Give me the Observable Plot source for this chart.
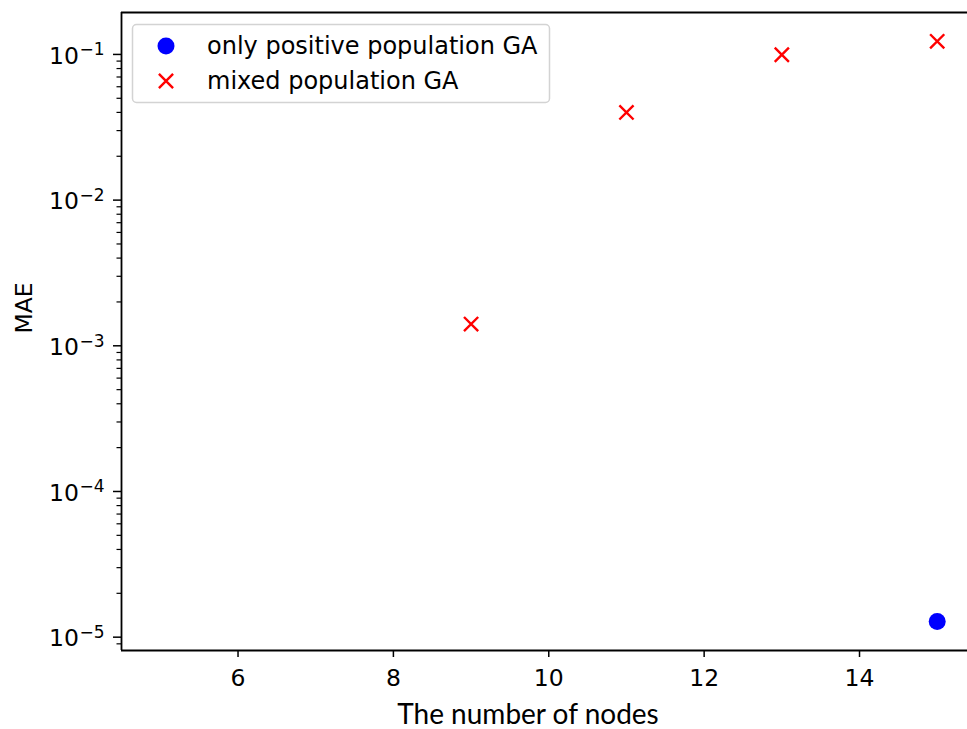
<!DOCTYPE html>
<html>
<head>
<meta charset="utf-8">
<script src="https://cdn.jsdelivr.net/npm/d3@7"></script>
<script src="https://cdn.jsdelivr.net/npm/@observablehq/plot@0.6"></script>
<style>
  html, body { margin: 0; padding: 0; background: #fff; }
  #wrap { position: relative; width: 967px; height: 729px; overflow: hidden; }
  #legend { position: absolute; left: 0; top: 0; }
</style>
</head>
<body>
<div id="wrap"></div>
<script>
// ---- data ----
const positiveNodes = [15];
const positiveMAE = [1.28e-5];
const mixedNodes = [9, 11, 13, 15];
const mixedMAE = [1.41e-3, 0.040, 0.0995, 0.123];

const xTicks = [6, 8, 10, 12, 14];
const yTicks = [1e-1, 1e-2, 1e-3, 1e-4, 1e-5];
const yTickBase = ["10", "10", "10", "10", "10"];
const yTickExp = ["\u22121", "\u22122", "\u22123", "\u22124", "\u22125"];

const seriesNames = ["only positive population GA", "mixed population GA"];
const xLabel = "The number of nodes";
const yLabel = "MAE";

const xDomain = [4.5, 15.39];
const yDomain = [8.1e-6, 0.194];

// minor log ticks
const yMinor = [];
for (let e = -6; e <= -1; e++) for (let m = 2; m <= 9; m++) {
  const v = m * Math.pow(10, e);
  if (v >= yDomain[0] && v <= yDomain[1]) yMinor.push(v);
}

const positive = positiveNodes.map((x, i) => ({x, y: positiveMAE[i]}));
const mixed = mixedNodes.map((x, i) => ({x, y: mixedMAE[i]}));
const yLabels = yTicks.map((v, i) => ({v, base: yTickBase[i], exp: yTickExp[i]}));

const tickFont = "DejaVu Sans";

const plot = Plot.plot({
  width: 967,
  height: 729,
  marginLeft: 121,
  marginRight: 0,
  marginTop: 12,
  marginBottom: 79,
  style: {fontFamily: tickFont, fontSize: "23.5px", color: "#000", background: "#fff", overflow: "visible"},
  x: {domain: xDomain, axis: null},
  y: {type: "log", domain: yDomain, axis: null},
  marks: [
    // spines
    Plot.ruleY([yDomain[0]], {stroke: "#000", strokeWidth: 1.8}),
    Plot.ruleY([yDomain[1]], {stroke: "#000", strokeWidth: 1.8}),
    Plot.ruleX([xDomain[0]], {stroke: "#000", strokeWidth: 1.8}),
    // x ticks
    Plot.axisX({ticks: xTicks, tickSize: 7, tickFormat: () => "", label: null, stroke: "#000", strokeWidth: 1.5}),
    Plot.text(xTicks, {x: d => d, text: d => String(d), frameAnchor: "bottom", lineAnchor: "bottom", dy: 35,
      fontSize: 23.5, fill: "#000"}),
    // y ticks
    Plot.axisY({ticks: yTicks, tickSize: 8, tickFormat: () => "", label: null, stroke: "#000", strokeWidth: 1.5}),
    Plot.axisY({ticks: yMinor, tickSize: 4.5, tickFormat: () => "", label: null, stroke: "#000", strokeWidth: 1.2}),
    Plot.text(yLabels, {y: "v", text: "base", frameAnchor: "left", textAnchor: "end", lineAnchor: "bottom",
      dx: -42.5, dy: 9.3, fontSize: 23.5, fill: "#000"}),
    Plot.text(yLabels, {y: "v", text: "exp", frameAnchor: "left", textAnchor: "end", lineAnchor: "bottom",
      dx: -17, dy: 1, fontSize: 17, fill: "#000"}),
    // axis labels
    Plot.text([xLabel], {frameAnchor: "bottom", lineAnchor: "bottom", dx: -16.5, dy: 73,
      fontFamily: "Lato", fontSize: 28, fill: "#000"}),
    Plot.text([yLabel], {frameAnchor: "left", rotate: -90, dx: -97, dy: 2, fontSize: 23.5, fill: "#000"}),
    // data
    Plot.dot(positive, {x: "x", y: "y", r: 8.5, fill: "#0000ff", stroke: "none"}),
    Plot.dot(mixed, {x: "x", y: "y", r: 6.5, symbol: "times", stroke: "#ff0000", strokeWidth: 2.4})
  ]
});

const wrap = document.getElementById("wrap");
wrap.appendChild(plot);

// legend overlay
const lg = d3.select(wrap).append("svg")
  .attr("id", "legend").attr("width", 967).attr("height", 729)
  .style("pointer-events", "none");
lg.append("rect").attr("x", 132.5).attr("y", 24.5).attr("width", 417).attr("height", 78)
  .attr("rx", 4).attr("fill", "#fff").attr("fill-opacity", 0.8)
  .attr("stroke", "#d3d3d3").attr("stroke-width", 1.5);
lg.append("circle").attr("cx", 166).attr("cy", 46).attr("r", 8.5).attr("fill", "#0000ff");
const tsym = d3.symbol(d3.symbolTimes, Math.PI * 6.5 * 6.5)();
lg.append("path").attr("d", tsym).attr("transform", "translate(166,81)")
  .attr("fill", "none").attr("stroke", "#ff0000").attr("stroke-width", 2.4);
seriesNames.forEach((name, i) => {
  lg.append("text").attr("x", 207).attr("y", i === 0 ? 53.5 : 88.5)
    .attr("font-family", "DejaVu Sans").attr("font-size", 24).attr("fill", "#000")
    .text(name);
});
</script>
</body>
</html>
